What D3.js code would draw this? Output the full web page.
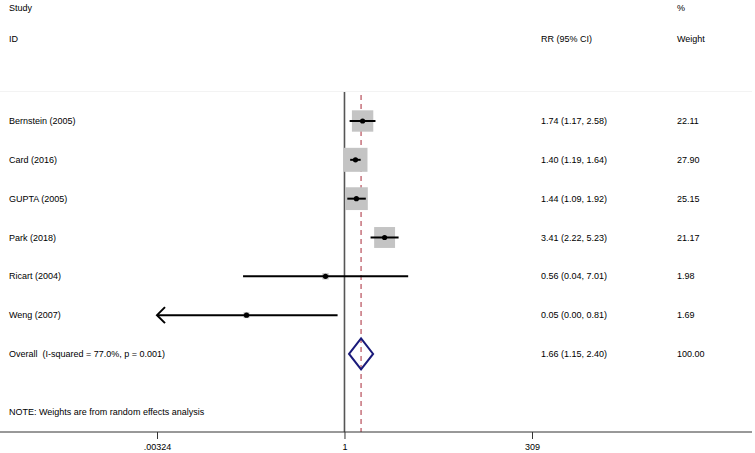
<!DOCTYPE html>
<html>
<head>
<meta charset="utf-8">
<script src="https://cdn.jsdelivr.net/npm/d3@7"></script>
<style>
  html, body { margin: 0; padding: 0; background: #fff; }
  svg { display: block; font-family: "Liberation Sans", Arial, sans-serif; }
</style>
</head>
<body>
<svg id="chart" width="755" height="453"></svg>
<script>
// ---- data ----
const studies = ["Bernstein (2005)", "Card (2016)", "GUPTA (2005)", "Park (2018)", "Ricart (2004)", "Weng (2007)"];
const rr      = [1.74, 1.40, 1.44, 3.41, 0.56, 0.05];
const ciLow   = [1.17, 1.19, 1.09, 2.22, 0.045, 0.0001];
const ciHigh  = [2.58, 1.64, 1.92, 5.23, 7.01, 0.81];
const rrLabels = ["1.74 (1.17, 2.58)", "1.40 (1.19, 1.64)", "1.44 (1.09, 1.92)", "3.41 (2.22, 5.23)", "0.56 (0.04, 7.01)", "0.05 (0.00, 0.81)"];
const weights = [22.11, 27.90, 25.15, 21.17, 1.98, 1.69];
const weightLabels = ["22.11", "27.90", "25.15", "21.17", "1.98", "1.69"];
const overallLabel = "Overall  (I-squared = 77.0%, p = 0.001)";
const overall = { est: 1.66, lo: 1.15, hi: 2.40 };
const overallRR = "1.66 (1.15, 2.40)";
const overallWeight = "100.00";
const tickValues = [0.00324, 1, 309];
const tickLabels = [".00324", "1", "309"];
const note = "NOTE: Weights are from random effects analysis";

// ---- layout ----
const svg = d3.select("#chart");
const fs = 9;
const xCol0 = 9, xColRR = 541, xColW = 677;
const axisY = 432, plotTop = 92;

const x = d3.scaleLog().domain([0.00324, 309]).range([157, 532]);
const y = d3.scaleLinear().domain([0, 1]).range([121, 121 + 38.83]);
const boxSize = d3.scaleSqrt().domain([0, 27.9]).range([0, 24]);

// very faint top line
svg.append("line").attr("x1", 0).attr("x2", 752).attr("y1", plotTop - 0.5).attr("y2", plotTop - 0.5)
  .attr("stroke", "#f3f3f3").attr("stroke-width", 1);

// headers
const hdr = [
  ["Study", xCol0, 8], ["%", xColW, 8],
  ["ID", xCol0, 39], ["RR (95% CI)", xColRR, 39], ["Weight", xColW, 39]
];
svg.selectAll("text.hdr").data(hdr).join("text").attr("class", "hdr")
  .attr("x", d => d[1]).attr("y", d => d[2]).attr("dy", "0.35em")
  .attr("font-size", fs).attr("fill", "#000").text(d => d[0]);

// null line (x=1)
svg.append("line").attr("x1", x(1)).attr("x2", x(1)).attr("y1", plotTop).attr("y2", axisY)
  .attr("stroke", "#555").attr("stroke-width", 1.6);

// overall dashed line
svg.append("line").attr("x1", x(overall.est)).attr("x2", x(overall.est)).attr("y1", plotTop + 3).attr("y2", axisY)
  .attr("stroke", "#a82838").attr("stroke-width", 1).attr("stroke-dasharray", "5,4");

const data = studies.map((s, i) => ({ s, i, est: rr[i], lo: ciLow[i], hi: ciHigh[i], w: weights[i], lab: rrLabels[i], wl: weightLabels[i] }));
const [dmin, dmax] = x.domain();

// boxes
svg.selectAll("rect.box").data(data).join("rect").attr("class", "box")
  .attr("x", d => x(d.est) - boxSize(d.w) / 2).attr("y", d => y(d.i) - boxSize(d.w) / 2)
  .attr("width", d => boxSize(d.w)).attr("height", d => boxSize(d.w))
  .attr("fill", "#c4c4c4");

// CI lines (clipped)
svg.selectAll("line.ci").data(data).join("line").attr("class", "ci")
  .attr("x1", d => x(Math.max(d.lo, dmin))).attr("x2", d => x(Math.min(d.hi, dmax)))
  .attr("y1", d => y(d.i)).attr("y2", d => y(d.i))
  .attr("stroke", "#000").attr("stroke-width", 2);

// arrows for clipped CIs
data.filter(d => d.lo < dmin).forEach(d => {
  const xa = x(dmin), ya = y(d.i);
  svg.append("path").attr("d", `M${xa + 8},${ya - 8} L${xa},${ya} L${xa + 8},${ya + 8}`)
    .attr("fill", "none").attr("stroke", "#000").attr("stroke-width", 2);
});

// points
svg.selectAll("circle.pt").data(data).join("circle").attr("class", "pt")
  .attr("cx", d => x(d.est)).attr("cy", d => y(d.i)).attr("r", 2.6).attr("fill", "#000");

// study labels
svg.selectAll("text.study").data(data).join("text").attr("class", "study")
  .attr("x", xCol0).attr("y", d => y(d.i)).attr("dy", "0.35em").attr("font-size", fs).text(d => d.s);
svg.selectAll("text.rr").data(data).join("text").attr("class", "rr")
  .attr("x", xColRR).attr("y", d => y(d.i)).attr("dy", "0.35em").attr("font-size", fs).text(d => d.lab);
svg.selectAll("text.wt").data(data).join("text").attr("class", "wt")
  .attr("x", xColW).attr("y", d => y(d.i)).attr("dy", "0.35em").attr("font-size", fs).text(d => d.wl);

// overall row
const oy = y(studies.length);
svg.append("path")
  .attr("d", `M${x(overall.lo)},${oy} L${x(overall.est)},${oy - 15.5} L${x(overall.hi)},${oy} L${x(overall.est)},${oy + 15.5} Z`)
  .attr("fill", "none").attr("stroke", "#1a1a7a").attr("stroke-width", 2);
svg.append("text").attr("x", xCol0).attr("y", oy).attr("dy", "0.35em").attr("font-size", fs).attr("xml:space", "preserve").style("white-space", "pre").text(overallLabel);
svg.append("text").attr("x", xColRR).attr("y", oy).attr("dy", "0.35em").attr("font-size", fs).text(overallRR);
svg.append("text").attr("x", xColW).attr("y", oy).attr("dy", "0.35em").attr("font-size", fs).text(overallWeight);

// note
svg.append("text").attr("x", xCol0).attr("y", y(studies.length + 1.5)).attr("dy", "0.35em").attr("font-size", fs).text(note);

// axis
svg.append("line").attr("x1", 0).attr("x2", 752).attr("y1", axisY).attr("y2", axisY)
  .attr("stroke", "#333").attr("stroke-width", 1);
const axis = d3.axisBottom(x).tickValues(tickValues).tickSize(7).tickSizeOuter(0)
  .tickFormat((d, i) => tickLabels[i]);
const ag = svg.append("g").attr("transform", `translate(0,${axisY})`).call(axis);
ag.select(".domain").remove();
ag.selectAll(".tick line").attr("stroke", "#333");
ag.selectAll(".tick text").attr("font-size", fs).attr("font-family", "Liberation Sans, Arial, sans-serif").attr("fill", "#000").attr("y", 12);
</script>
</body>
</html>
